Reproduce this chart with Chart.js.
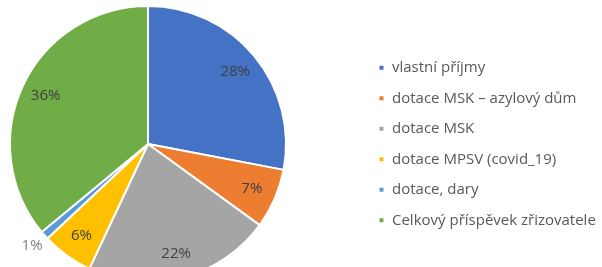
<!DOCTYPE html>
<html>
<head>
<meta charset="utf-8">
<script src="https://cdn.jsdelivr.net/npm/chart.js@4"></script>
<style>
html,body{margin:0;padding:0;background:#fff;overflow:hidden;width:602px;height:267px;}
#wrap{width:602px;height:290px;}
</style>
</head>
<body>
<div id="wrap"><canvas id="c" width="602" height="290"></canvas></div>
<script>
const categories = ["vlastní příjmy", "dotace MSK – azylový dům", "dotace MSK", "dotace MPSV (covid_19)", "dotace, dary", "Celkový příspěvek zřizovatele"];
const shares = [28, 7, 22, 6, 1, 36];
const colors = ["#4472C4", "#ED7D31", "#A5A5A5", "#FFC000", "#5B9BD5", "#70AD47"];

const fontFamily = "'Open Sans', 'Liberation Sans', sans-serif";

const fixArea = {
  id: 'fixArea',
  afterLayout(chart) {
    const a = chart.chartArea;
    const side = a.bottom - a.top;
    a.right = a.left + side;
    a.width = side;
    a.height = side;
  }
};

const pieLabels = {
  id: 'pieLabels',
  afterDatasetsDraw(chart) {
    const ctx = chart.ctx;
    const meta = chart.getDatasetMeta(0);
    const data = chart.data.datasets[0].data;
    const total = data.reduce((s, v) => s + v, 0);
    ctx.save();
    ctx.font = "15px " + fontFamily;
    ctx.textAlign = 'center';
    ctx.textBaseline = 'middle';
    meta.data.forEach((arc, i) => {
      const p = arc.getProps(['x', 'y', 'startAngle', 'endAngle', 'outerRadius'], true);
      const mid = (p.startAngle + p.endAngle) / 2;
      const pct = data[i] / total;
      const f = pct < 0.03 ? 1.12 : 0.82;
      const r = p.outerRadius * f;
      ctx.fillStyle = pct < 0.03 ? '#7f7f7f' : '#404040';
      ctx.fillText(Math.round(pct * 100) + '%', p.x + Math.cos(mid) * r, p.y + Math.sin(mid) * r);
    });
    ctx.restore();
  }
};

new Chart(document.getElementById('c'), {
  type: 'pie',
  data: {
    labels: categories,
    datasets: [{
      data: shares,
      backgroundColor: colors,
      borderColor: '#ffffff',
      borderWidth: 2
    }]
  },
  options: {
    responsive: false,
    animation: false,
    events: [],
    layout: { padding: { left: 9, top: 5, bottom: 7, right: 0 } },
    plugins: {
      tooltip: { enabled: false },
      legend: {
        position: 'right',
        maxWidth: 239,
        labels: {
          boxWidth: 6,
          boxHeight: 6,
          padding: 15.5,
          color: '#595959',
          font: { family: fontFamily, size: 15 }
        }
      }
    }
  },
  plugins: [fixArea, pieLabels]
});
</script>
</body>
</html>
